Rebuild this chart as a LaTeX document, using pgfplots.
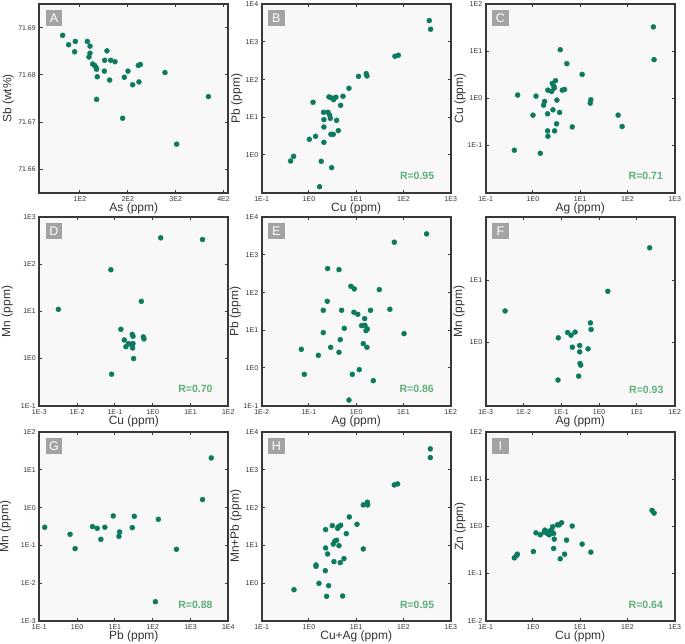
\documentclass[border=0pt]{standalone}
\usepackage{fontspec}
\setmainfont{Liberation Sans}
\usepackage{pgfplots}
\pgfplotsset{compat=1.18}

\definecolor{dot}{HTML}{0B7A5E}
\definecolor{rtext}{HTML}{5DAF78}
\definecolor{framec}{HTML}{383838}
\definecolor{bgc}{HTML}{F8F8F8}
\definecolor{tagc}{HTML}{A3A3A3}
\definecolor{txt}{HTML}{333333}

\pgfplotsset{
  panel/.style={
    scale only axis, width=189pt, height=188.5pt,
    anchor=south west,
    axis background/.style={fill=bgc, draw=framec, line width=1.8pt},
    axis line style={draw=framec, line width=1.8pt},
    tick align=inside, major tick length=3.2pt,
    tick style={draw=framec, line width=1pt},
    xminorticks=false, yminorticks=false,
    tick label style={font=\fontsize{7}{8}\selectfont, text=txt},
    label style={font=\fontsize{12}{14}\selectfont, text=txt},
    xlabel style={at={([yshift=-15.5pt]axis description cs:0.5,0)}, anchor=center},
  },
  ylab/.style={ylabel style={at={([xshift=-#1]axis description cs:0,0.5)}, anchor=center}},
  dots/.style={only marks, mark=*, mark size=2.5pt, color=dot, mark options={fill=dot, draw=none}},
}

% panel tag and correlation coefficient
\newcommand{\tag}[1]{\node[anchor=north west, fill=tagc, text=white, minimum size=16.5pt, inner sep=0pt, font=\fontsize{12.5}{14}\selectfont] at ([xshift=6.2pt,yshift=-5.5pt]rel axis cs:0,1) {#1};}
\newcommand{\rval}[2]{\node[anchor=base east, text=rtext, font=\bfseries\fontsize{10.5}{12}\selectfont] at ([xshift=-#2,yshift=12.7pt]rel axis cs:1,0) {#1};}

\begin{document}
\begin{tikzpicture}
\path[use as bounding box] (0,0) rectangle (685pt,643pt);

% ---------------- A: Sb vs As
\begin{axis}[panel, at={(39.3pt,450.3pt)}, ylab=31pt,
  xmin=15, xmax=410, ymin=71.655, ymax=71.695,
  xtick={100,200,300,400}, xticklabels={1E2,2E2,3E2,4E2},
  ytick={71.66,71.67,71.68,71.69}, yticklabels={71.66,71.67,71.68,71.69},
  xlabel={As (ppm)}, ylabel={Sb (wt\%)}]
\addplot[dots] coordinates {
(63.8,71.6884) (76.3,71.6864) (90.2,71.6871) (88.9,71.6849) (115.3,71.6871)
(120.9,71.6861) (120.9,71.6846) (118.8,71.6838) (156.4,71.6851) (151.6,71.6831)
(164.1,71.6831) (173.2,71.6828) (126.5,71.6823) (130.7,71.6820) (133.4,71.6816)
(134.8,71.6812) (150.9,71.6808) (136.2,71.6796) (162.0,71.6789) (200.3,71.6808)
(192.7,71.6795) (222.0,71.6820) (226.1,71.6822) (223.3,71.6785) (210.1,71.6779)
(277.7,71.6805) (134.8,71.6748) (189.2,71.6708) (302.1,71.6653) (368.3,71.6754)};
\tag{A}
\end{axis}

% ---------------- B: Pb vs Cu
\begin{axis}[panel, at={(261.7pt,450.3pt)}, ylab=25pt, xmode=log, ymode=log,
  xmin=0.1, xmax=1000, ymin=0.1, ymax=10000,
  xtick={0.1,1,10,100,1000}, xticklabels={1E-1,1E0,1E1,1E2,1E3},
  ytick={1,10,100,1000,10000}, yticklabels={1E0,1E1,1E2,1E3,1E4},
  xlabel={Cu (ppm)}, ylabel={Pb (ppm)}]
\addplot[dots] coordinates {
(352,3680) (376,2170) (66.1,416) (77.8,443) (11.2,122) (16.3,144) (16.9,125)
(7.03,58.9) (1.22,25.0) (2.65,34.7) (3.02,32.6) (3.33,29.4) (3.72,34.0)
(5.25,36.1) (4.68,20.8) (2.04,13.6) (2.52,13.6) (2.74,11.5) (2.83,9.40)
(2.07,8.67) (3.85,8.32) (2.07,5.53) (4.18,4.43) (2.92,3.54) (3.27,3.54)
(1.38,3.13) (1.02,2.61) (2.07,2.17) (0.473,0.923) (0.409,0.693) (1.82,0.679)
(3.02,0.461) (1.68,0.144)};
\tag{B}
\rval{R=0.95}{13pt}
\end{axis}

% ---------------- C: Cu vs Ag
\begin{axis}[panel, at={(485.7pt,450.3pt)}, ylab=25.7pt, xmode=log, ymode=log,
  xmin=0.1, xmax=1000, ymin=0.01, ymax=100,
  xtick={0.1,1,10,100,1000}, xticklabels={1E-1,1E0,1E1,1E2,1E3},
  ytick={0.1,1,10,100}, yticklabels={1E-1,1E0,1E1,1E2},
  xlabel={Ag (ppm)}, ylabel={Cu (ppm)}]
\addplot[dots] coordinates {
(354,33.0) (366,6.65) (3.78,10.8) (5.22,5.47) (11.0,3.24) (3.01,2.38)
(2.56,2.08) (2.78,1.80) (2.82,1.66) (2.48,1.41) (2.07,1.50) (4.17,1.50)
(4.67,1.55) (0.474,1.18) (1.16,1.12) (1.76,0.863) (1.68,0.721) (3.21,0.923)
(16.8,0.938) (16.3,0.796) (2.65,0.574) (3.66,0.504) (2.04,0.472) (1.00,0.442)
(63.5,0.442) (3.16,0.289) (6.78,0.249) (77.1,0.254) (2.87,0.205) (2.04,0.205)
(2.07,0.158) (0.404,0.0796) (1.43,0.0687)};
\tag{C}
\rval{R=0.71}{8.3pt}
\end{axis}

% ---------------- D: Mn vs Cu
\begin{axis}[panel, at={(39.3pt,237.3pt)}, ylab=32pt, xmode=log, ymode=log,
  xmin=0.001, xmax=100, ymin=0.1, ymax=1000,
  xtick={0.001,0.01,0.1,1,10,100}, xticklabels={1E-3,1E-2,1E-1,1E0,1E1,1E2},
  ytick={0.1,1,10,100,1000}, yticklabels={1E-1,1E0,1E1,1E2,1E3},
  xlabel={Cu (ppm)}, ylabel={Mn (ppm)}]
\addplot[dots] coordinates {
(1.63,365) (20.8,336) (0.0783,76.6) (0.00319,11.1) (0.500,16.4) (0.144,4.18)
(0.288,3.27) (0.301,2.97) (0.565,2.88) (0.589,2.61) (0.177,2.48) (0.226,2.08)
(0.266,2.01) (0.301,2.08) (0.196,1.79) (0.294,1.68) (0.313,1.00) (0.0817,0.466)};
\tag{D}
\rval{R=0.70}{12.3pt}
\end{axis}

% ---------------- E: Pb vs Ag
\begin{axis}[panel, at={(261.7pt,237.3pt)}, ylab=26.5pt, xmode=log, ymode=log,
  xmin=0.01, xmax=100, ymin=0.1, ymax=10000,
  xtick={0.01,0.1,1,10,100}, xticklabels={1E-2,1E-1,1E0,1E1,1E2},
  ytick={0.1,1,10,100,1000,10000}, yticklabels={1E-1,1E0,1E1,1E2,1E3,1E4},
  xlabel={Ag (ppm)}, ylabel={Pb (ppm)}]
\addplot[dots] coordinates {
(30.9,3610) (6.40,2170) (0.248,434) (0.432,408) (0.774,147) (0.910,125)
(3.08,120) (0.244,58.9) (0.201,34.0) (0.491,34.0) (0.895,30.1) (1.08,26.6)
(2.01,34.0) (5.16,36.1) (1.51,20.4) (1.30,13.3) (1.53,13.6) (1.61,9.79)
(1.72,10.8) (0.560,11.3) (0.201,8.67) (10.3,8.17) (0.460,5.65) (1.41,4.43)
(1.69,3.54) (0.288,3.54) (0.432,2.61) (0.158,2.17) (0.0689,3.13) (0.0796,0.679)
(0.826,0.679) (1.16,0.904) (2.30,0.461) (0.703,0.141)};
\tag{E}
\rval{R=0.86}{13.4pt}
\end{axis}

% ---------------- F: Mn vs Ag
\begin{axis}[panel, at={(485.7pt,237.3pt)}, ylab=26.7pt, xmode=log, ymode=log,
  xmin=0.001, xmax=100, ymin=0.0963, ymax=103.8,
  xtick={0.001,0.01,0.1,1,10,100}, xticklabels={1E-3,1E-2,1E-1,1E0,1E1,1E2},
  ytick={1,10}, yticklabels={1E0,1E1},
  xlabel={Ag (ppm)}, ylabel={Mn (ppm)}]
\addplot[dots] coordinates {
(21.7,33.4) (1.70,6.67) (0.00326,3.22) (0.589,2.07) (0.614,1.62) (0.147,1.45)
(0.181,1.31) (0.231,1.47) (0.0832,1.19) (0.196,0.841) (0.307,0.895) (0.307,0.708)
(0.511,0.791) (0.313,0.460) (0.326,0.433) (0.288,0.288) (0.0817,0.249)};
\tag{F}
\rval{R=0.93}{7.8pt}
\end{axis}

% ---------------- G: Mn vs Pb
\begin{axis}[panel, at={(39.3pt,22.3pt)}, ylab=34pt, xmode=log, ymode=log,
  xmin=0.1, xmax=10000, ymin=0.001, ymax=100,
  xtick={0.1,1,10,100,1000,10000}, xticklabels={1E-1,1E0,1E1,1E2,1E3,1E4},
  ytick={0.001,0.01,0.1,1,10,100}, yticklabels={1E-3,1E-2,1E-1,1E0,1E1,1E2},
  xlabel={Pb (ppm)}, ylabel={Mn (ppm)}]
\addplot[dots] coordinates {
(3540,20.8) (2080,1.63) (0.139,0.301) (0.652,0.196) (0.885,0.0817) (2.55,0.313)
(3.40,0.282) (5.43,0.301) (4.25,0.144) (9.04,0.601) (13.3,0.226) (12.8,0.173)
(28.8,0.294) (32.6,0.589) (141,0.490) (425,0.0783) (118,0.00319)};
\tag{G}
\rval{R=0.88}{12.3pt}
\end{axis}

% ---------------- H: Mn+Pb vs Cu+Ag
\begin{axis}[panel, at={(261.7pt,22.3pt)}, ylab=26pt, xmode=log, ymode=log,
  xmin=0.1, xmax=1000, ymin=0.1, ymax=10000,
  xtick={0.1,1,10,100,1000}, xticklabels={1E-1,1E0,1E1,1E2,1E3},
  ytick={1,10,100,1000,10000}, yticklabels={1E0,1E1,1E2,1E3,1E4},
  xlabel={Cu+Ag (ppm)}, ylabel={Mn+Pb (ppm)}]
\addplot[dots] coordinates {
(370,3610) (370,2120) (64.0,400) (75.3,425) (14.1,118) (17.2,139) (17.5,118)
(7.14,56.5) (10.4,36.1) (3.12,33.3) (2.25,26.1) (4.18,30.7) (4.68,34.0)
(4.05,28.2) (6.17,20.4) (3.55,13.0) (3.85,13.6) (3.27,10.8) (4.32,9.79)
(2.25,8.49) (14.1,8.00) (2.48,5.89) (3.38,3.68) (5.51,4.43) (4.60,3.47)
(1.41,3.01) (1.41,2.77) (2.22,2.12) (1.63,0.979) (2.61,0.849) (0.482,0.665)
(2.37,0.443) (5.16,0.452)};
\tag{H}
\rval{R=0.95}{13pt}
\end{axis}

% ---------------- I: Zn vs Cu
\begin{axis}[panel, at={(485.7pt,22.3pt)}, ylab=25.7pt, xmode=log, ymode=log,
  xmin=0.1, xmax=1000, ymin=0.01, ymax=100,
  xtick={0.1,1,10,100,1000}, xticklabels={1E-1,1E0,1E1,1E2,1E3},
  ytick={0.01,0.1,1,10,100}, yticklabels={1E-2,1E-1,1E0,1E1,1E2},
  xlabel={Cu (ppm)}, ylabel={Zn (ppm)}]
\addplot[dots] coordinates {
(332,2.19) (366,1.92) (0.404,0.216) (0.452,0.242) (0.467,0.258) (1.02,0.294)
(1.16,0.733) (1.43,0.665) (1.73,0.759) (1.79,0.836) (2.01,0.710) (2.11,0.783)
(2.21,0.665) (2.60,0.984) (2.48,0.836) (2.74,0.710) (3.27,1.08) (3.60,1.08)
(4.04,1.20) (6.78,1.02) (2.82,0.538) (5.14,0.513) (2.74,0.341) (4.67,0.258)
(3.78,0.206) (11.0,0.422) (16.8,0.285) (2.36,0.809)};
\tag{I}
\rval{R=0.64}{8.3pt}
\end{axis}
\end{tikzpicture}
\end{document}
